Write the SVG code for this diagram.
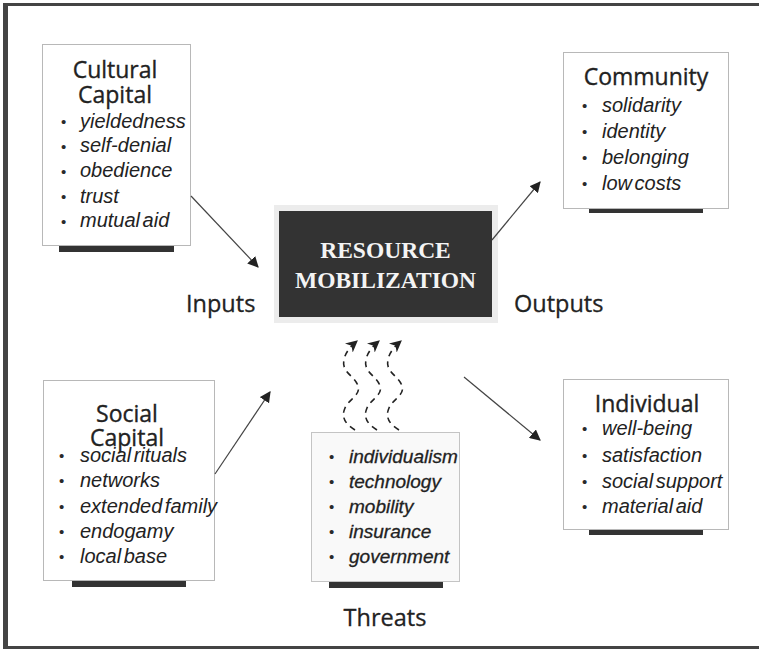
<svg xmlns="http://www.w3.org/2000/svg" width="759" height="649" viewBox="0 0 759 649">
<defs>
<style>
.box{fill:#fff;stroke:#b8b8b8;stroke-width:1}
.bar{fill:#333}
.hd{font-family:"Open Sans","Liberation Sans",sans-serif;font-size:23px;fill:#222;stroke:#222;stroke-width:0.35;text-anchor:middle}
.lbl{font-family:"Open Sans","Liberation Sans",sans-serif;font-size:23.5px;fill:#222;stroke:#222;stroke-width:0.3}
.it{font-family:"Liberation Sans",Arial,sans-serif;font-style:italic;font-size:20px;fill:#222;word-spacing:-3px}
.th{font-family:"Liberation Sans",Arial,sans-serif;font-style:italic;font-size:19px;fill:#222;stroke:#222;stroke-width:0.3;word-spacing:-3px}
.bu{font-family:"Liberation Sans",Arial,sans-serif;font-size:15px;fill:#2a2a2a}
.ln{stroke:#444;stroke-width:1.2;fill:none}
.wv{stroke:#222;stroke-width:1.6;fill:none;stroke-dasharray:6,5}
</style>
<marker id="ah" viewBox="0 0 10 10" refX="9" refY="5" markerWidth="11" markerHeight="11" markerUnits="userSpaceOnUse" orient="auto">
<path d="M0,0 L10,5 L0,10 Z" fill="#222"/>
</marker>
<marker id="ah2" viewBox="0 0 10 10" refX="9" refY="5" markerWidth="12" markerHeight="12" markerUnits="userSpaceOnUse" orient="auto">
<path d="M0,0 L10,5 L0,10 L3,5 Z" fill="#222"/>
</marker>
</defs>
<rect width="759" height="649" fill="#fff"/>
<g id="frame">
<rect x="3" y="3" width="5" height="646" fill="#444"/>
<rect x="3" y="3" width="756" height="3" fill="#444"/>
<rect x="3" y="646" width="756" height="3" fill="#444"/>
</g>

<g id="cultural">
<rect class="bar" x="59" y="246" width="115" height="6"/>
<rect class="box" x="42.5" y="44.5" width="148" height="201"/>
<text class="hd" x="115" y="78">Cultural</text>
<text class="hd" x="115" y="103">Capital</text>
<g class="bu"><text x="61" y="127">•</text><text x="61" y="152">•</text><text x="61" y="177">•</text><text x="61" y="202">•</text><text x="61" y="227">•</text></g>
<text class="it" x="80" y="128">yieldedness</text>
<text class="it" x="80" y="152">self-denial</text>
<text class="it" x="80" y="177">obedience</text>
<text class="it" x="80" y="203">trust</text>
<text class="it" x="80" y="227">mutual aid</text>
</g>

<g id="community">
<rect class="bar" x="589" y="208" width="114" height="5"/>
<rect class="box" x="563.5" y="52.5" width="165" height="156"/>
<text class="hd" x="646" y="85">Community</text>
<g class="bu"><text x="582" y="111">•</text><text x="582" y="137">•</text><text x="582" y="163">•</text><text x="582" y="189">•</text></g>
<text class="it" x="602" y="112">solidarity</text>
<text class="it" x="602" y="138">identity</text>
<text class="it" x="602" y="164">belonging</text>
<text class="it" x="602" y="190">low costs</text>
</g>

<g id="center">
<rect x="274" y="205" width="224" height="118" fill="#ececec"/>
<rect x="279" y="211" width="213" height="106" fill="#333"/>
<text x="385.5" y="258" font-family="'Liberation Serif','Times New Roman',serif" font-size="23.5" font-weight="bold" fill="#f4f4f4" text-anchor="middle">RESOURCE</text>
<text x="385.5" y="288" font-family="'Liberation Serif','Times New Roman',serif" font-size="23.5" font-weight="bold" fill="#f4f4f4" text-anchor="middle">MOBILIZATION</text>
</g>

<g id="inputs"><text class="lbl" x="186" y="312">Inputs</text></g>
<g id="outputs"><text class="lbl" x="514" y="312">Outputs</text></g>

<g id="social">
<rect class="bar" x="72" y="581" width="114" height="6"/>
<rect class="box" x="43.5" y="380.5" width="171" height="200"/>
<text class="hd" x="127" y="422">Social</text>
<text class="hd" x="127" y="446">Capital</text>
<g class="bu"><text x="59" y="461">•</text><text x="59" y="486">•</text><text x="59" y="512">•</text><text x="59" y="537">•</text><text x="59" y="562">•</text></g>
<text class="it" x="80" y="462">social rituals</text>
<text class="it" x="80" y="487">networks</text>
<text class="it" x="80" y="513">extended family</text>
<text class="it" x="80" y="538">endogamy</text>
<text class="it" x="80" y="563">local base</text>
</g>

<g id="threats">
<rect class="bar" x="329" y="582" width="114" height="6"/>
<rect x="311.5" y="432.5" width="148" height="149" fill="#f9f9f9" stroke="#c4c4c4" stroke-width="1"/>
<g class="bu"><text x="329" y="462">•</text><text x="329" y="487">•</text><text x="329" y="512">•</text><text x="329" y="537">•</text><text x="329" y="562">•</text></g>
<text class="th" x="349" y="463">individualism</text>
<text class="th" x="349" y="488">technology</text>
<text class="th" x="349" y="513">mobility</text>
<text class="th" x="349" y="538">insurance</text>
<text class="th" x="349" y="563">government</text>
<text class="lbl" x="385" y="626" text-anchor="middle">Threats</text>
</g>

<g id="individual">
<rect class="bar" x="589" y="530" width="114" height="5"/>
<rect class="box" x="563.5" y="379.5" width="165" height="150"/>
<text class="hd" x="647" y="412">Individual</text>
<g class="bu"><text x="582" y="434">•</text><text x="582" y="461">•</text><text x="582" y="487">•</text><text x="582" y="512">•</text></g>
<text class="it" x="602" y="435">well-being</text>
<text class="it" x="602" y="462">satisfaction</text>
<text class="it" x="602" y="488">social support</text>
<text class="it" x="602" y="513">material aid</text>
</g>

<g id="connectors">
<line class="ln" x1="191" y1="196" x2="258" y2="267" marker-end="url(#ah)"/>
<line class="ln" x1="215" y1="474" x2="270" y2="392" marker-end="url(#ah)"/>
<line class="ln" x1="492" y1="240" x2="540" y2="182" marker-end="url(#ah)"/>
<line class="ln" x1="464" y1="377" x2="540" y2="440" marker-end="url(#ah)"/>
<path class="wv" d="M355,430 C345,424 341,417 345,408 C349,399 361,395 358,386 C355,376 341,372 344,360 C345,353 350,347 357,341" marker-end="url(#ah2)"/>
<path class="wv" d="M377,430 C367,424 363,417 367,408 C371,399 383,395 380,386 C377,376 363,372 366,360 C367,353 372,347 379,341" marker-end="url(#ah2)"/>
<path class="wv" d="M399,430 C389,424 385,417 389,408 C393,399 405,395 402,386 C399,376 385,372 388,360 C389,353 394,347 401,341" marker-end="url(#ah2)"/>
</g>
</svg>
